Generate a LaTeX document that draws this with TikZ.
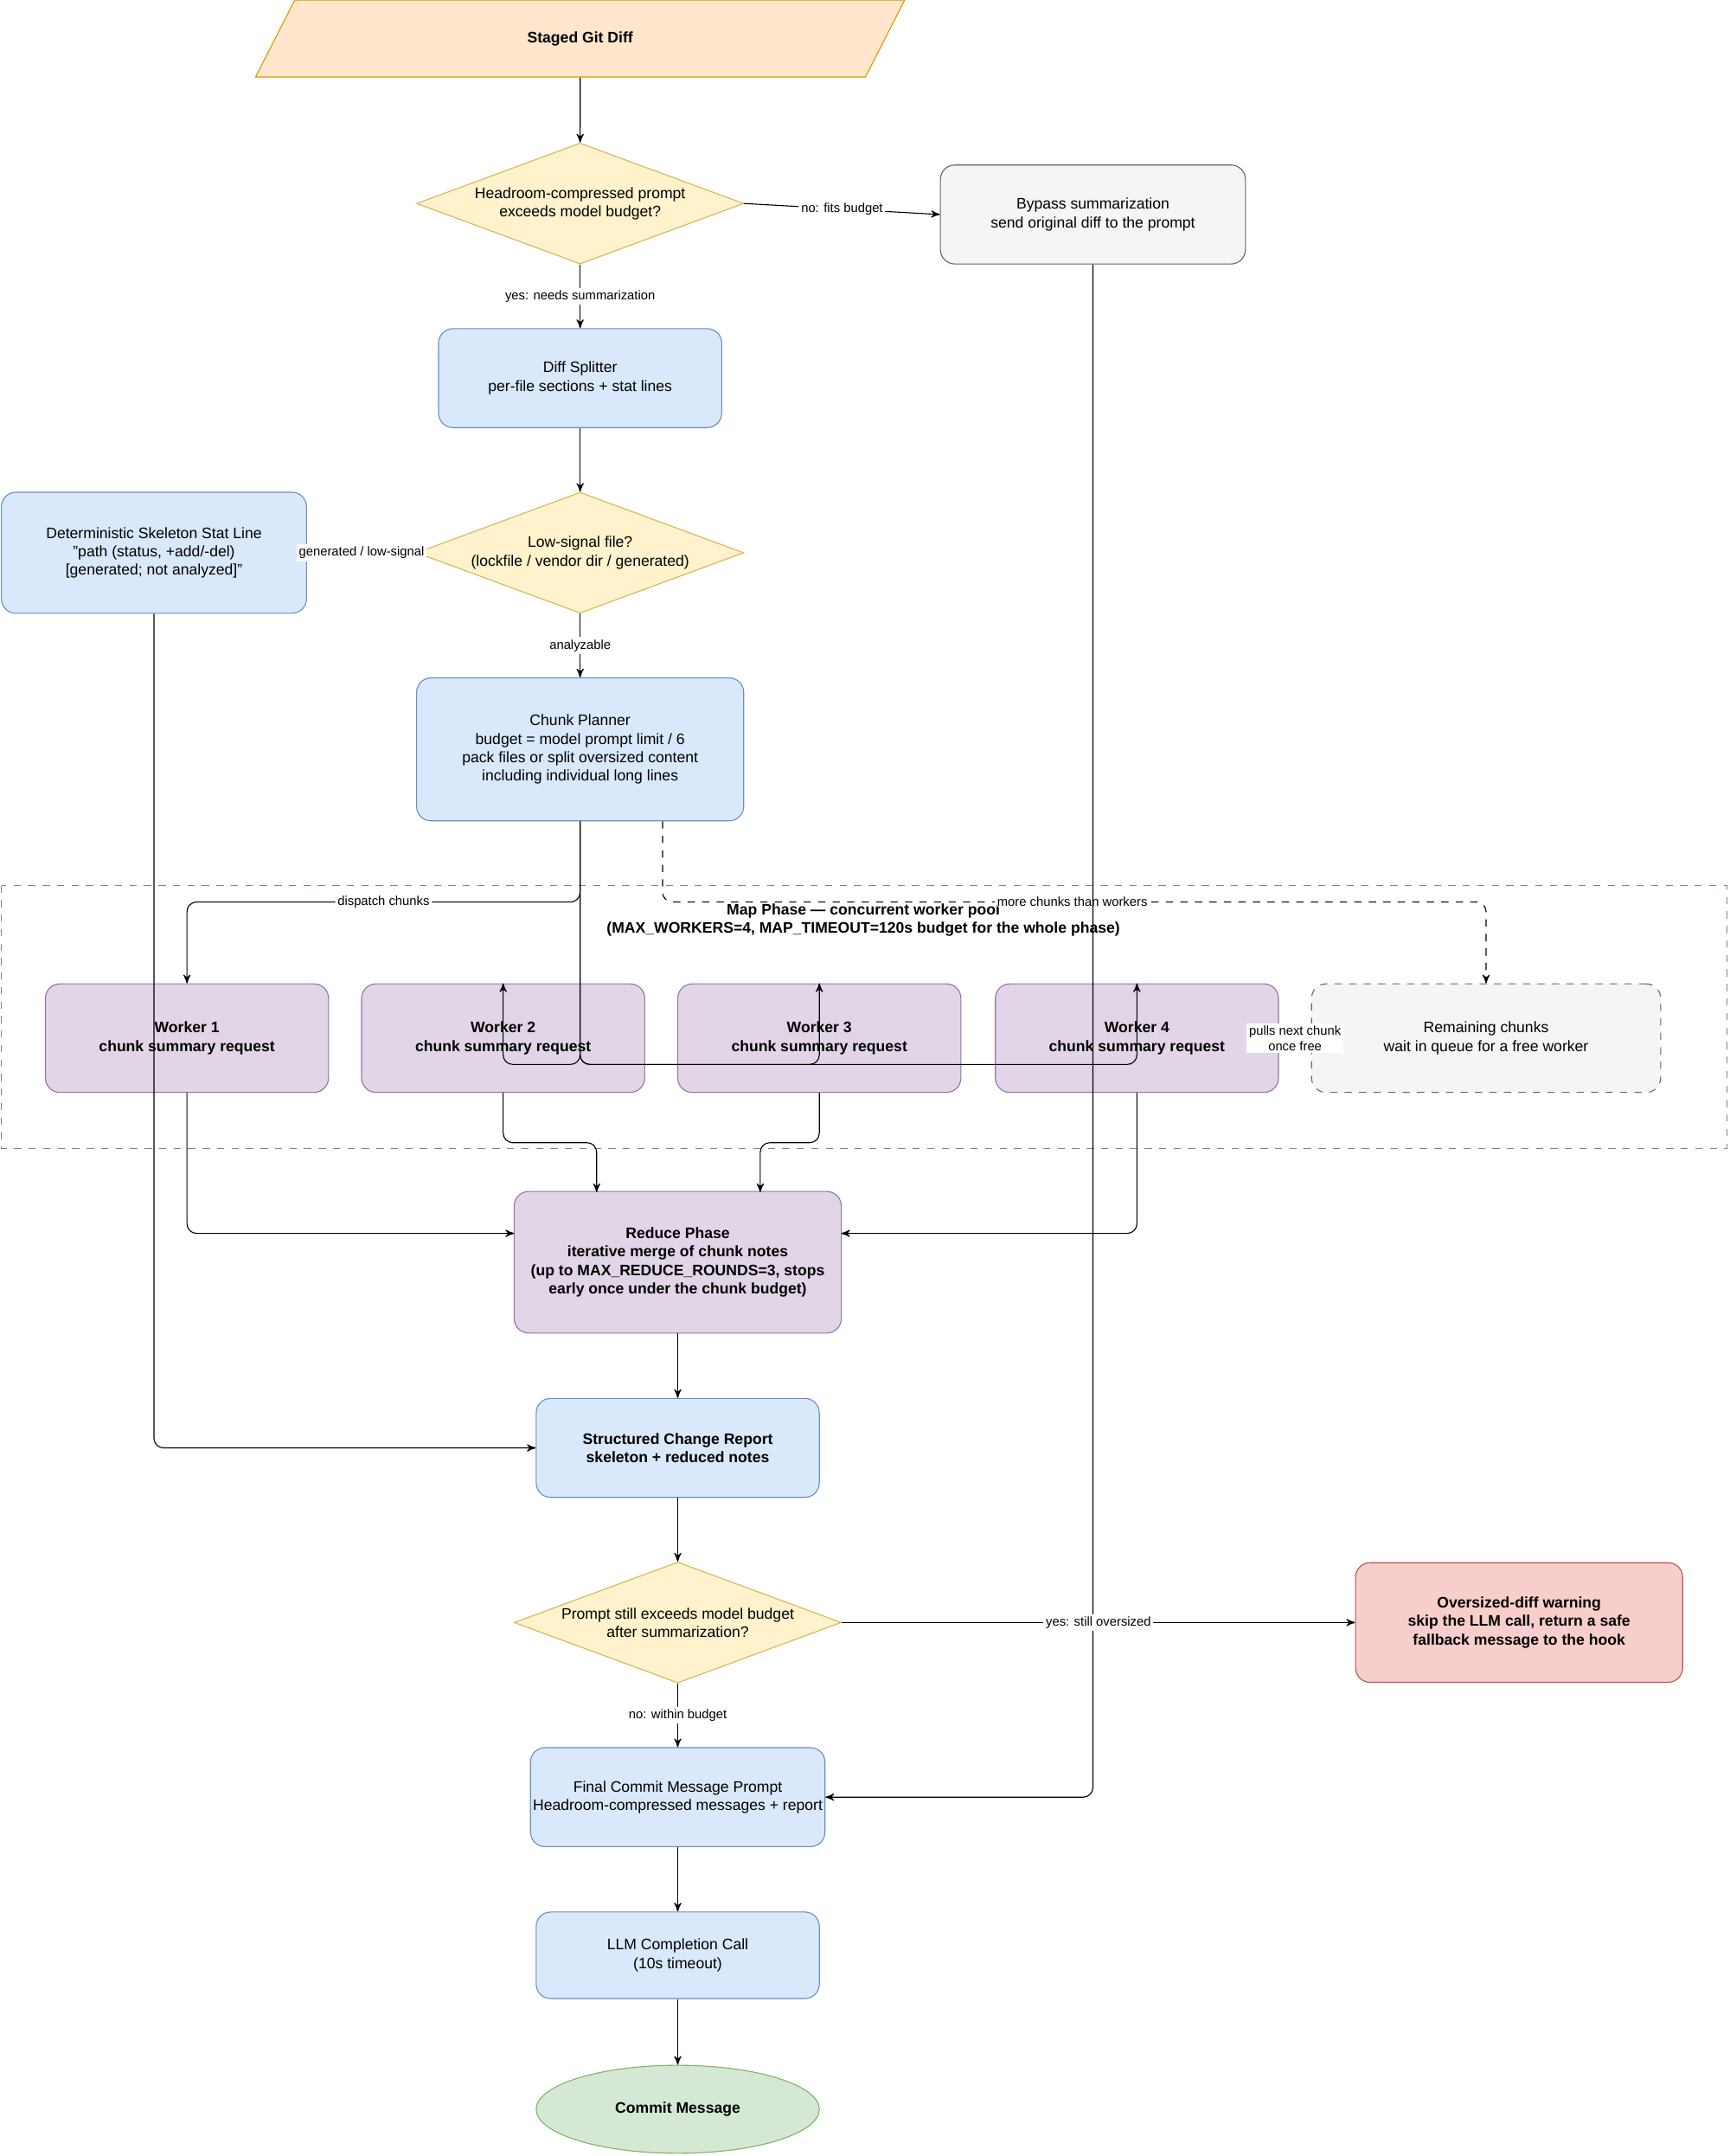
\documentclass[tikz,border=0pt]{standalone}
\usepackage{fontspec}
\setmainfont{Liberation Sans}
\usepackage{xcolor}
\usetikzlibrary{arrows, shapes.geometric}

\definecolor{blueF}{HTML}{DAE8FC}\definecolor{blueD}{HTML}{6C8EBF}
\definecolor{yelF}{HTML}{FFF2CC}\definecolor{yelD}{HTML}{D6B656}
\definecolor{oraF}{HTML}{FFE6CC}\definecolor{oraD}{HTML}{D79B00}
\definecolor{purF}{HTML}{E1D5E7}\definecolor{purD}{HTML}{9673A6}
\definecolor{gryF}{HTML}{F5F5F5}\definecolor{gryD}{HTML}{666666}
\definecolor{redF}{HTML}{F8CECC}\definecolor{redD}{HTML}{B85450}
\definecolor{grnF}{HTML}{D5E8D4}\definecolor{grnD}{HTML}{82B366}

\begin{document}
\begin{tikzpicture}[x=0.02cm,y=-0.02cm,>=stealth',thin,
    font=\fontsize{6.3}{7.6}\selectfont]

    \tikzset{box/.style={draw=blueD, fill=blueF, rounded corners=6pt, align=center,
                 minimum width=4.12cm, minimum height=1.44cm, inner sep=1pt},
             worker/.style={box, draw=purD, fill=purF, font=\fontsize{6.3}{7.6}\selectfont\bfseries, minimum height=1.58cm},
             decision/.style={diamond, aspect=2.7, draw=yelD, fill=yelF, align=center,
                 minimum width=4.76cm, minimum height=1.76cm, inner sep=0pt},
             lbl/.style={fill=white, inner sep=1pt, font=\fontsize{5.3}{6.3}\selectfont, align=center},
             flow/.style={->, rounded corners=4pt}}

    \useasboundingbox (0,0) rectangle (1258,1568);

    % map phase container
    \draw[purD, dashed] (1,644) rectangle (1256,835);
    \node[font=\fontsize{6.3}{7.6}\selectfont\bfseries, align=center] (maptitle) at (628,669)
        {Map Phase — concurrent worker pool\\(MAX\_WORKERS=4, MAP\_TIMEOUT=120s budget for the whole phase)};

    \node[trapezium, trapezium left angle=63, trapezium right angle=117, draw=oraD, fill=oraF,
          minimum width=4.12cm, minimum height=1.12cm, inner sep=0pt, font=\fontsize{6.3}{7.6}\selectfont\bfseries] (diff) at (422,28) {Staged Git Diff};
    \node[decision] (fits) at (422,148) {Headroom-compressed prompt\\exceeds model budget?};
    \node[box, draw=gryD, fill=gryF, minimum width=4.44cm] (bypass) at (795,156) {Bypass summarization\\send original diff to the prompt};
    \node[box] (split) at (422,275) {Diff Splitter\\per-file sections + stat lines};
    \node[box, minimum width=4.44cm, minimum height=1.76cm] (skel) at (112,402)
        {Deterministic Skeleton Stat Line\\"path (status, +add/-del)\\{[}generated; not analyzed{]}"};
    \node[decision] (lowsig) at (422,402) {Low-signal file?\\(lockfile / vendor dir / generated)};
    \node[box, minimum width=4.76cm, minimum height=2.08cm] (plan) at (422,545)
        {Chunk Planner\\budget = model prompt limit / 6\\pack files or split oversized content\\including individual long lines};

    \node[worker] (w1) at (136,755) {Worker 1\\chunk summary request};
    \node[worker] (w2) at (366,755) {Worker 2\\chunk summary request};
    \node[worker] (w3) at (596,755) {Worker 3\\chunk summary request};
    \node[worker] (w4) at (827,755) {Worker 4\\chunk summary request};
    \node[box, draw=gryD, fill=gryF, dashed, minimum width=5.08cm, minimum height=1.58cm] (queue) at (1081,755)
        {Remaining chunks\\wait in queue for a free worker};

    \node[worker, minimum width=4.76cm, minimum height=2.06cm] (reduce) at (493,918)
        {Reduce Phase\\iterative merge of chunk notes\\(up to MAX\_REDUCE\_ROUNDS=3, stops\\early once under the chunk budget)};
    \node[box, font=\fontsize{6.3}{7.6}\selectfont\bfseries] (report) at (493,1053) {Structured Change Report\\skeleton + reduced notes};
    \node[decision] (still) at (493,1180) {Prompt still exceeds model budget\\after summarization?};
    \node[box, draw=redD, fill=redF, minimum width=4.76cm, minimum height=1.74cm, font=\fontsize{6.3}{7.6}\selectfont\bfseries] (warn) at (1105,1180)
        {Oversized-diff warning\\skip the LLM call, return a safe\\fallback message to the hook};
    \node[box] (final) at (493,1307) {Final Commit Message Prompt\\Headroom-compressed messages + report};
    \node[box, minimum height=1.26cm] (llm) at (493,1422) {LLM Completion Call\\(10s timeout)};
    \node[ellipse, draw=grnD, fill=grnF, minimum width=4.12cm, minimum height=1.28cm,
          font=\fontsize{6.3}{7.6}\selectfont\bfseries] (commit) at (493,1534) {Commit Message};

    \draw[->] (diff) -- (fits);
    \draw[->] (fits.east) -- node[lbl] {no: fits budget} (bypass.west);
    \draw[->] (fits) -- node[lbl] {yes: needs summarization} (split);
    \draw[->] (split) -- (lowsig);
    \draw[->] (lowsig.west) -- node[lbl] {generated / low-signal} (skel.east);
    \draw[->] (lowsig) -- node[lbl] {analyzable} (plan);

    \draw[flow] (plan.south) |- (279,656) node[lbl] {dispatch chunks} -| (w1.north);
    \foreach \w in {w2,w3,w4}
        \draw[flow] (plan.south) |- ([yshift=-1.18cm]\w.north) -- (\w.north);
    \draw[flow, dashed] ([xshift=1.2cm]plan.south) |- (780,656) node[lbl] {more chunks than workers} -| (queue.north);
    \draw[->] (queue.west) -- node[lbl] {pulls next chunk\\once free} (w4.east);

    \draw[flow] (w1.south) |- (374,897);
    \draw[flow] (w2.south) |- (434,831) -- (434,867);
    \draw[flow] (w3.south) |- (553,831) -- (553,867);
    \draw[flow] (w4.south) |- (612,897);

    \draw[flow] (bypass.south) |- (final.east);
    \draw[flow] (skel.south) |- (report.west);
    \draw[->] (reduce) -- (report);
    \draw[->] (report) -- (still);
    \draw[->] (still.east) -- node[lbl] {yes: still oversized} (warn.west);
    \draw[->] (still) -- node[lbl] {no: within budget} (final);
    \draw[->] (final) -- (llm);
    \draw[->] (llm) -- (commit);
\end{tikzpicture}
\end{document}
